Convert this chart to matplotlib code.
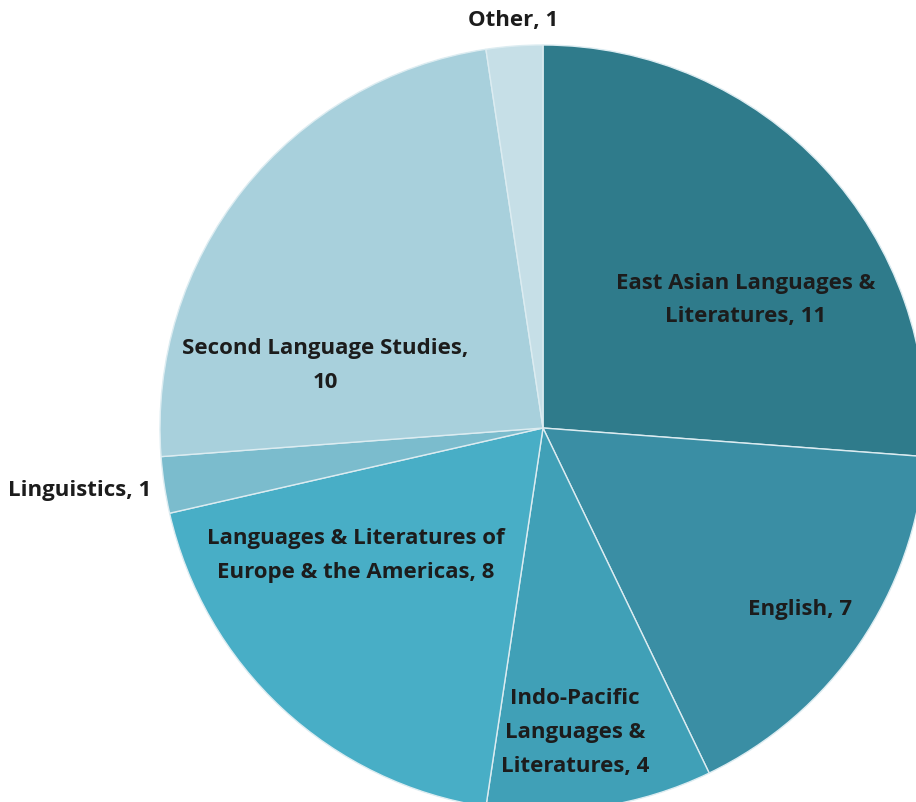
import matplotlib
matplotlib.use("Agg")
import matplotlib.pyplot as plt

# data
labels = ["East Asian Languages &\nLiteratures, 11", "English, 7",
          "Indo-Pacific\nLanguages &\nLiteratures, 4",
          "Languages & Literatures of\nEurope & the Americas, 8",
          "Linguistics, 1", "Second Language Studies,\n10", "Other, 1"]
values = [11, 7, 4, 8, 1, 10, 1]
colors = ["#2f7b8b", "#3a8ea4", "#40a0b7", "#48aec6", "#7bbccd", "#a8d0dc", "#c6dfe7"]

# label positions (data units, pie radius = 1)
label_xy = [(0.53, 0.334), (0.671, -0.475), (0.084, -0.795), (-0.488, -0.333),
            (-1.209, -0.162), (-0.569, 0.164), (-0.078, 1.065)]

plt.rcParams['font.family'] = ['Open Sans', 'DejaVu Sans']

fig = plt.figure(figsize=(9.16, 8.02), dpi=100)
ax = fig.add_axes([0, 0, 1, 1])
ax.pie(values, colors=colors, startangle=90, counterclock=False, radius=1,
       wedgeprops=dict(edgecolor="#dcecf1", linewidth=1))
for lab, (x, y) in zip(labels, label_xy):
    ax.text(x, y, lab, ha="center", va="center", fontsize=16,
            fontweight="bold", color="#1c1c1c", linespacing=1.8)

ax.set_xlim(-543 / 383, 373 / 383)
ax.set_ylim(-374 / 383, 428 / 383)
ax.set_aspect("auto")
ax.axis("off")
fig.savefig("out.png", dpi=100)
